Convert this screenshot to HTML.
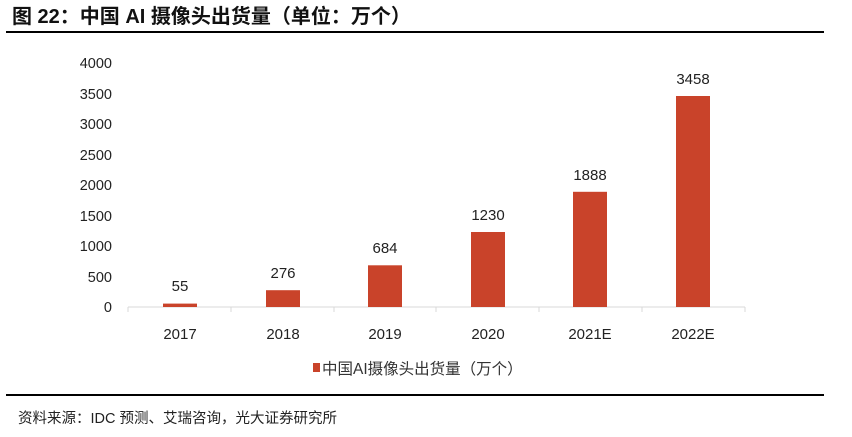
<!DOCTYPE html>
<html><head><meta charset="utf-8"><style>
body{margin:0;width:852px;height:432px;background:#fff;font-family:"Liberation Sans","Noto Sans CJK SC",sans-serif;overflow:hidden}
</style></head><body>
<svg width="852" height="432" xmlns="http://www.w3.org/2000/svg" font-family="Liberation Sans, Noto Sans CJK SC, sans-serif">
<text x="12" y="23" font-size="20" font-weight="bold" fill="#111">图 22：中国 AI 摄像头出货量（单位：万个）</text>
<line x1="6" y1="32" x2="824" y2="32" stroke="#000" stroke-width="2"/>
<g font-size="14.5" fill="#222" text-anchor="end">
<text x="112" y="312">0</text><text x="112" y="282">500</text><text x="112" y="251">1000</text><text x="112" y="221">1500</text><text x="112" y="190">2000</text><text x="112" y="160">2500</text><text x="112" y="129">3000</text><text x="112" y="99">3500</text><text x="112" y="68">4000</text>
</g>
<line x1="128" y1="307" x2="745" y2="307" stroke="#d9d9d9"/>
<g stroke="#d9d9d9"><line x1="128" y1="307" x2="128" y2="312"/><line x1="231" y1="307" x2="231" y2="312"/><line x1="334" y1="307" x2="334" y2="312"/><line x1="436" y1="307" x2="436" y2="312"/><line x1="539" y1="307" x2="539" y2="312"/><line x1="642" y1="307" x2="642" y2="312"/><line x1="745" y1="307" x2="745" y2="312"/></g>
<g fill="#c9432a">
<rect x="163" y="303.6" width="34" height="3.4"/>
<rect x="266" y="290.2" width="34" height="16.8"/>
<rect x="368" y="265.3" width="34" height="41.7"/>
<rect x="471" y="232" width="34" height="75"/>
<rect x="573" y="191.8" width="34" height="115.2"/>
<rect x="676" y="96" width="34" height="211"/>
</g>
<g font-size="15" fill="#222" text-anchor="middle">
<text x="180" y="291">55</text><text x="283" y="278">276</text><text x="385" y="253">684</text><text x="488" y="220">1230</text><text x="590" y="180">1888</text><text x="693" y="84">3458</text>
<text x="180" y="339">2017</text><text x="283" y="339">2018</text><text x="385" y="339">2019</text><text x="488" y="339">2020</text><text x="590" y="339">2021E</text><text x="693" y="339">2022E</text>
</g>
<rect x="313" y="363" width="7" height="9" fill="#c9432a"/>
<text x="322" y="374" font-size="15.5" fill="#333">中国AI摄像头出货量（万个）</text>
<line x1="6" y1="395" x2="824" y2="395" stroke="#000" stroke-width="2"/>
<text x="18" y="423" font-size="14.5" fill="#222">资料来源：IDC 预测、艾瑞咨询，光大证券研究所</text>
</svg>
</body></html>
